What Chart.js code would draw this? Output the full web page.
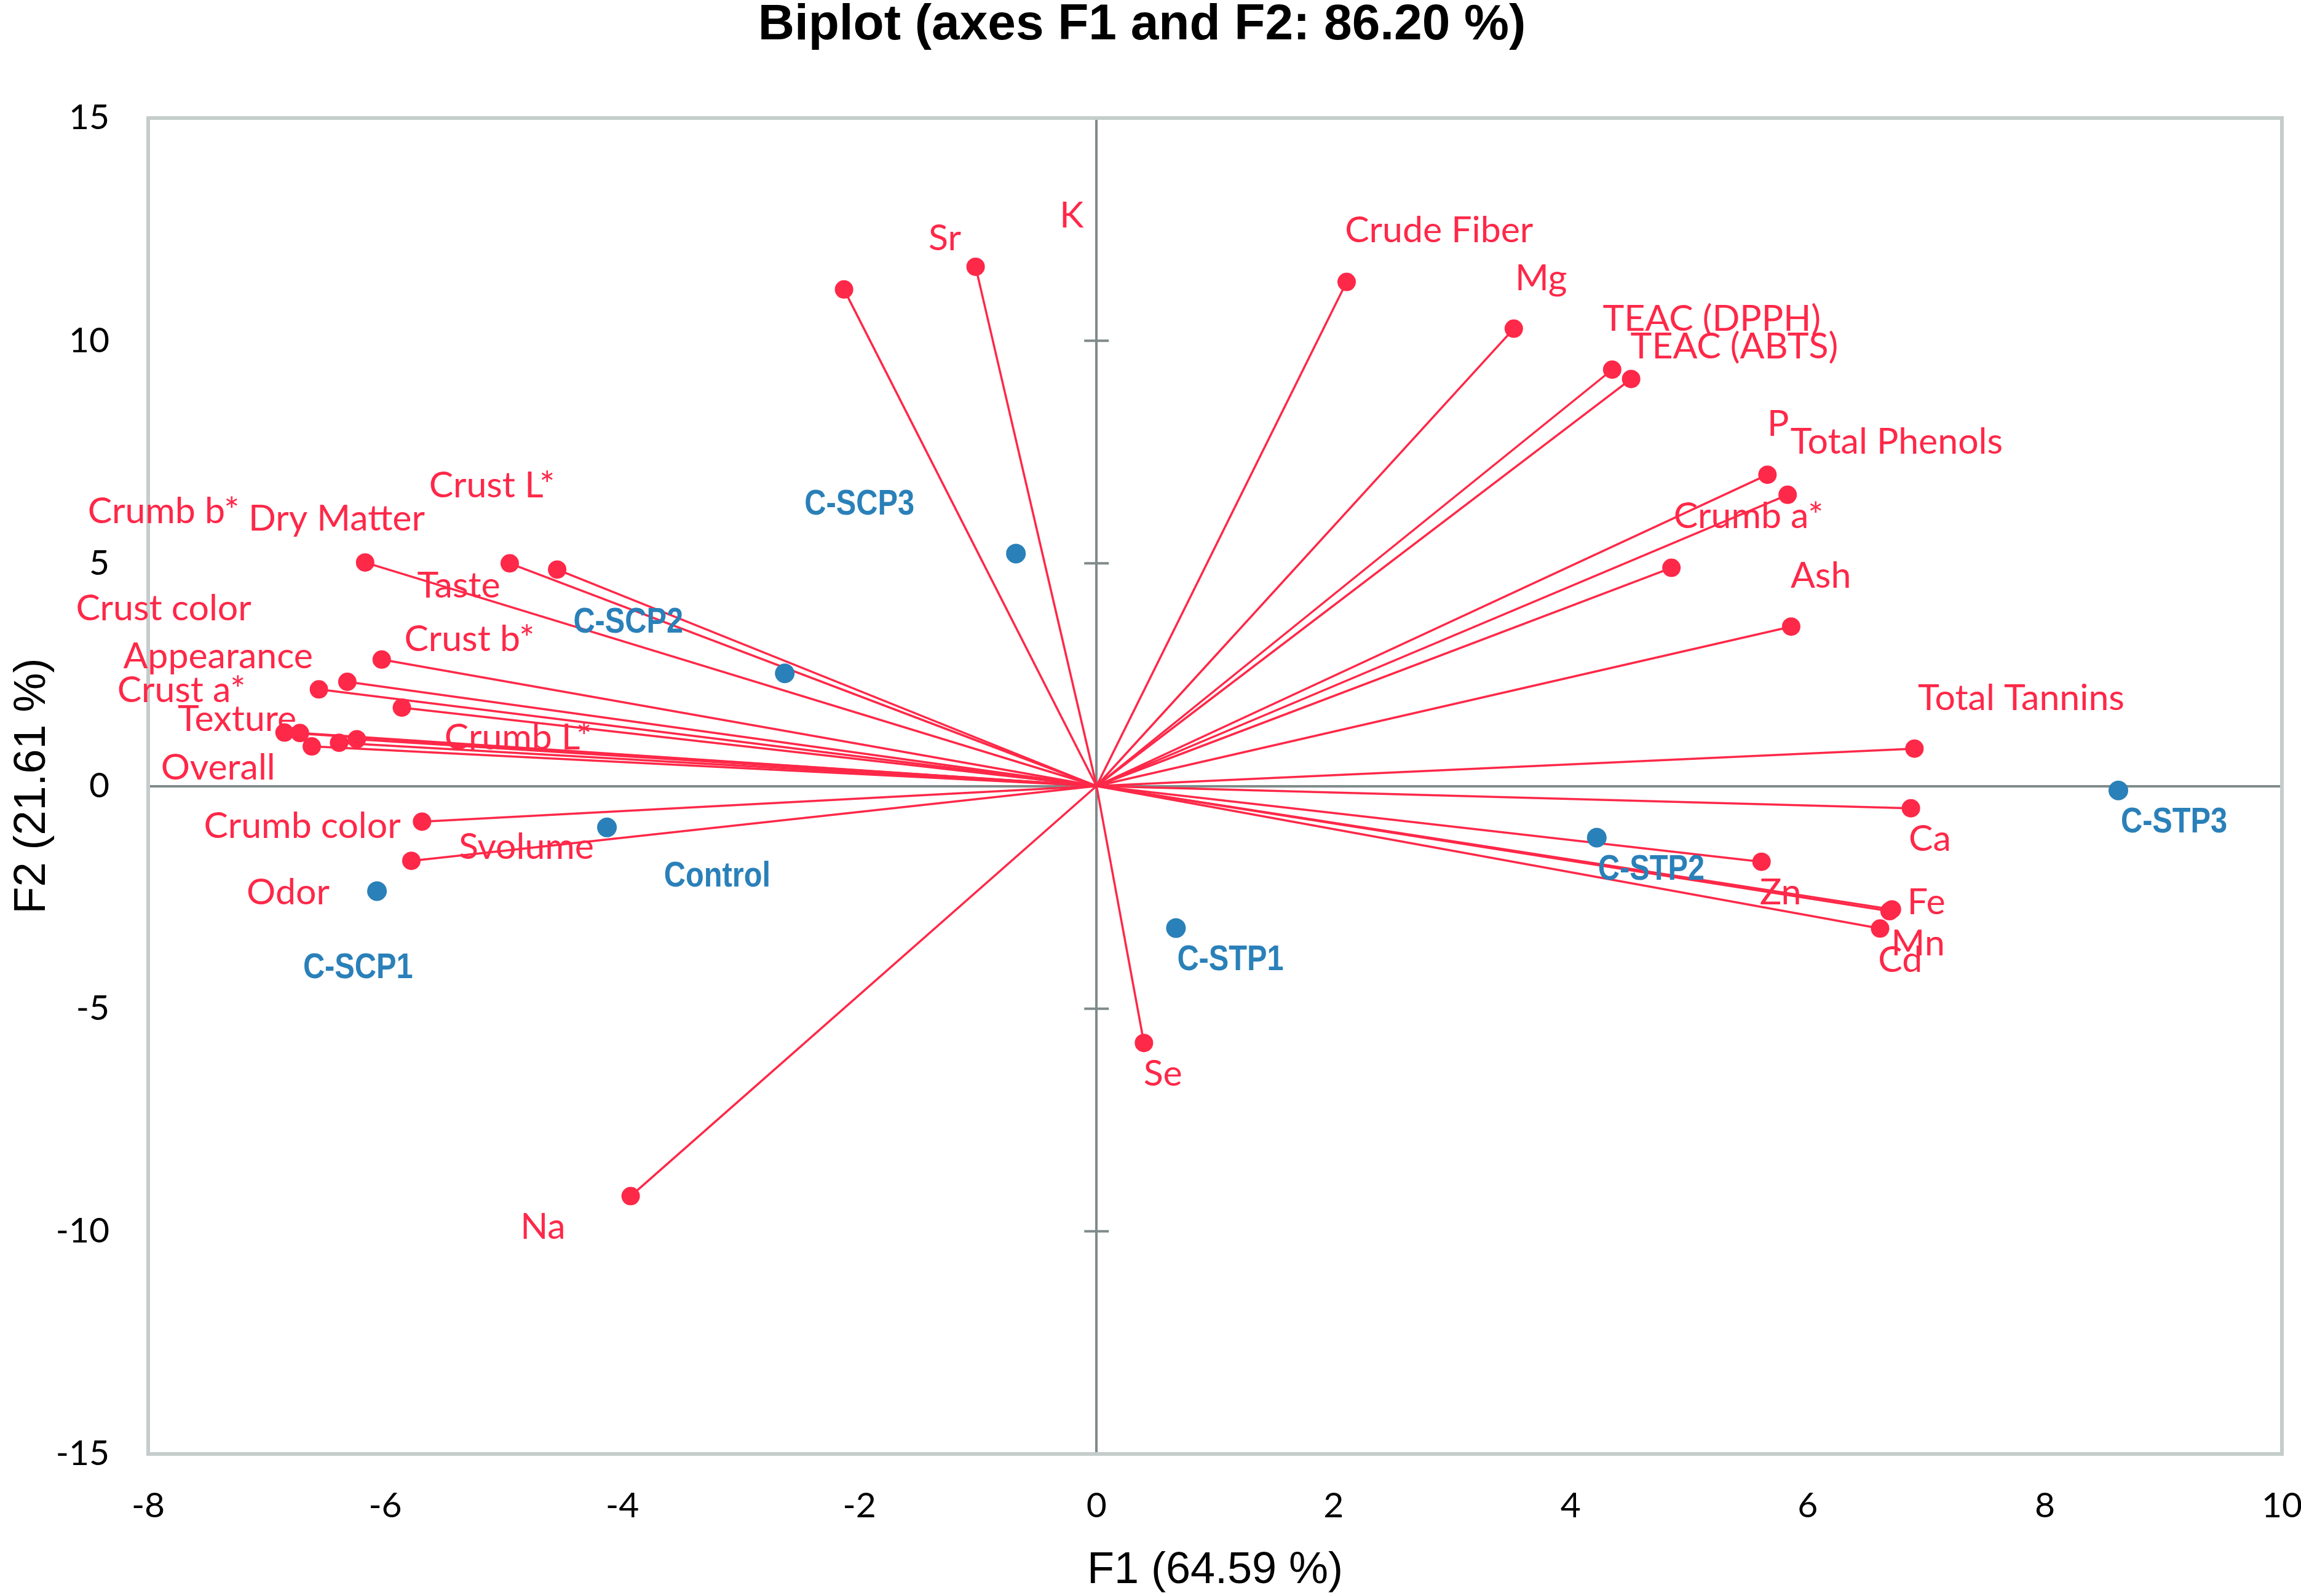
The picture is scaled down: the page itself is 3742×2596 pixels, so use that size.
<!DOCTYPE html>
<html><head><meta charset="utf-8">
<script src="https://cdn.jsdelivr.net/npm/chart.js@4.4.0/dist/chart.umd.min.js"></script>
<style>html,body{margin:0;padding:0;background:#fff}#wrap{width:3742px;height:2596px;position:relative}</style>
</head><body><div id="wrap"><canvas id="c" width="3742" height="2596"></canvas></div>
<script>
// ---- data ----
const chartTitle = 'Biplot (axes F1 and F2: 86.20 %)';
const xTitle = 'F1 (64.59 %)';
const yTitle = 'F2 (21.61 %)';
const xTicks = [-8, -6, -4, -2, 0, 2, 4, 6, 8, 10];
const yTicks = [-15, -10, -5, 0, 5, 10, 15];

const varNames = ['Crumb b*','Dry Matter','Crust L*','Taste','Crust color','Crust b*','Appearance','Crust a*','Texture','Crumb L*','Overall','Svolume','Crumb color','Odor','K','Sr','Na','Se','Crude Fiber','Mg','TEAC (DPPH)','TEAC (ABTS)','P','Total Phenols','Crumb a*','Ash','Total Tannins','Ca','Zn','Fe','Mn','Cd'];
const varF1 = [-6.17,-4.95,-4.55,-6.03,-6.32,-5.86,-6.56,-6.85,-6.72,-6.24,-6.62,-6.39,-5.69,-5.78,-2.13,-1.02,-3.93,0.40,2.11,3.52,4.35,4.51,5.66,5.83,4.85,5.86,6.90,6.87,5.61,6.71,6.69,6.61];
const varF2 = [5.02,5.00,4.86,2.84,2.34,1.76,2.17,1.20,1.19,1.05,0.89,0.97,-0.80,-1.68,11.15,11.66,-9.21,-5.77,11.32,10.27,9.35,9.14,6.99,6.54,4.90,3.58,0.84,-0.50,-1.70,-2.77,-2.81,-3.20];
const varLabelF1 = [-7.87,-6.41,-5.10,-5.38,-7.87,-5.29,-7.41,-7.72,-7.25,-4.88,-7.41,-4.81,-6.70,-6.82,-0.21,-1.28,-4.67,0.56,2.89,3.75,5.19,5.38,5.75,6.75,5.50,6.11,7.80,7.03,5.77,7.00,6.93,6.78];
const varLabelF2 = [6.16,6.00,6.74,4.49,3.98,3.30,2.91,2.15,1.50,1.09,0.41,-1.37,-0.91,-2.40,12.80,12.30,-9.91,-6.47,12.47,11.40,10.49,9.86,8.13,7.72,6.05,4.72,1.97,-1.19,-2.40,-2.61,-3.54,-3.91];

const obsNames = ['C-SCP3','C-SCP2','Control','C-SCP1','C-STP1','C-STP2','C-STP3'];
const obsF1 = [-0.68,-2.63,-4.13,-6.07,0.67,4.22,8.62];
const obsF2 = [5.22,2.53,-0.93,-2.36,-3.19,-1.16,-0.10];
const obsLabelF1 = [-2.00,-3.95,-3.20,-6.23,1.13,4.68,9.09];
const obsLabelF2 = [6.32,3.67,-2.04,-4.10,-3.91,-1.88,-0.82];

// ---- styles ----
const RED = '#fe2848';
const BLUE = '#2a80b9';
const AXIS = '#7f8b8a';
const FRAME = '#c4cdcb';
const LABEL_FONT = '59px Lato';
const OBS_FONT = 'bold 58px "Liberation Sans", Arial';
const OBS_SQUEEZE = 0.84;

const datasets = [];
varNames.forEach((n, i) => {
  datasets.push({
    label: n,
    data: [{x: 0, y: 0}, {x: varF1[i], y: varF2[i]}],
    showLine: true,
    borderColor: RED,
    borderWidth: 3.5,
    pointRadius: [0, 15],
    pointHoverRadius: [0, 15],
    pointBackgroundColor: RED,
    pointBorderWidth: 0,
    order: 2
  });
});
datasets.push({
  label: 'Observations',
  data: obsF1.map((v, i) => ({x: v, y: obsF2[i]})),
  showLine: false,
  pointRadius: 16,
  pointBackgroundColor: BLUE,
  pointBorderWidth: 0,
  order: 1
});

const deco = {
  id: 'deco',
  beforeDatasetsDraw(chart) {
    const {ctx, scales: {x, y}} = chart;
    ctx.save();
    const x0 = x.getPixelForValue(0);
    ctx.strokeStyle = AXIS; ctx.lineWidth = 4;
    yTicks.forEach(v => {
      const py = y.getPixelForValue(v);
      ctx.beginPath(); ctx.moveTo(x0 - 20, py); ctx.lineTo(x0 + 20, py); ctx.stroke();
    });
    ctx.restore();
  },
  afterDatasetsDraw(chart) {
    const {ctx, chartArea: a, scales: {x, y}} = chart;
    ctx.save();
    ctx.strokeStyle = FRAME; ctx.lineWidth = 6;
    ctx.strokeRect(a.left, a.top, a.right - a.left, a.bottom - a.top);
    ctx.fillStyle = RED; ctx.font = LABEL_FONT;
    ctx.textAlign = 'center'; ctx.textBaseline = 'middle';
    varNames.forEach((n, i) => {
      ctx.fillText(n, x.getPixelForValue(varLabelF1[i]), y.getPixelForValue(varLabelF2[i]));
    });
    ctx.fillStyle = BLUE; ctx.font = OBS_FONT;
    obsNames.forEach((n, i) => {
      ctx.save();
      ctx.translate(x.getPixelForValue(obsLabelF1[i]), y.getPixelForValue(obsLabelF2[i]));
      ctx.scale(OBS_SQUEEZE, 1);
      ctx.fillText(n, 0, 0);
      ctx.restore();
    });
    ctx.fillStyle = '#000';
    ctx.font = 'bold 82px "Liberation Sans", Arial';
    ctx.textBaseline = 'alphabetic';
    ctx.fillText(chartTitle, chart.width / 2 - 14, 64);
    ctx.restore();
  }
};

function gridColor(c) { return c.tick && c.tick.value === 0 ? AXIS : 'rgba(0,0,0,0)'; }

function build() {
  new Chart(document.getElementById('c'), {
    type: 'scatter',
    data: {datasets},
    options: {
      responsive: false,
      animation: false,
      devicePixelRatio: 1,
      layout: {padding: {left: 0, right: 31, top: 192, bottom: 0}},
      plugins: {legend: {display: false}, tooltip: {enabled: false}, title: {display: false}},
      scales: {
        x: {
          type: 'linear', min: -8, max: 10,
          afterBuildTicks: s => { s.ticks = xTicks.map(v => ({value: v})); },
          afterFit: s => { s.height = 231; s.paddingLeft = 0; s.paddingRight = 0; },
          grid: {color: gridColor, lineWidth: 4, drawTicks: false},
          border: {display: false},
          ticks: {font: {family: 'Lato', size: 57}, color: '#000', padding: 50, maxRotation: 0},
          title: {display: true, text: xTitle, color: '#000', font: {family: '"Liberation Sans", Arial', size: 72, lineHeight: 1}, padding: {top: 0, bottom: 5}}
        },
        y: {
          type: 'linear', min: -15, max: 15,
          afterBuildTicks: s => { s.ticks = yTicks.map(v => ({value: v})); },
          afterFit: s => { s.width = 241; s.paddingTop = 0; s.paddingBottom = 0; },
          grid: {color: gridColor, lineWidth: 4, drawTicks: false},
          border: {display: false},
          ticks: {font: {family: 'Lato', size: 57}, color: '#000', padding: 63},
          title: {display: true, text: yTitle, color: '#000', font: {family: '"Liberation Sans", Arial', size: 72, lineHeight: 1}, padding: {top: 17, bottom: 0}}
        }
      }
    },
    plugins: [deco]
  });
}
Promise.race([
  Promise.all([document.fonts.load('59px Lato'), document.fonts.load('72px "Liberation Sans"')]),
  new Promise(r => setTimeout(r, 1500))
]).then(build, build);
</script></body></html>
